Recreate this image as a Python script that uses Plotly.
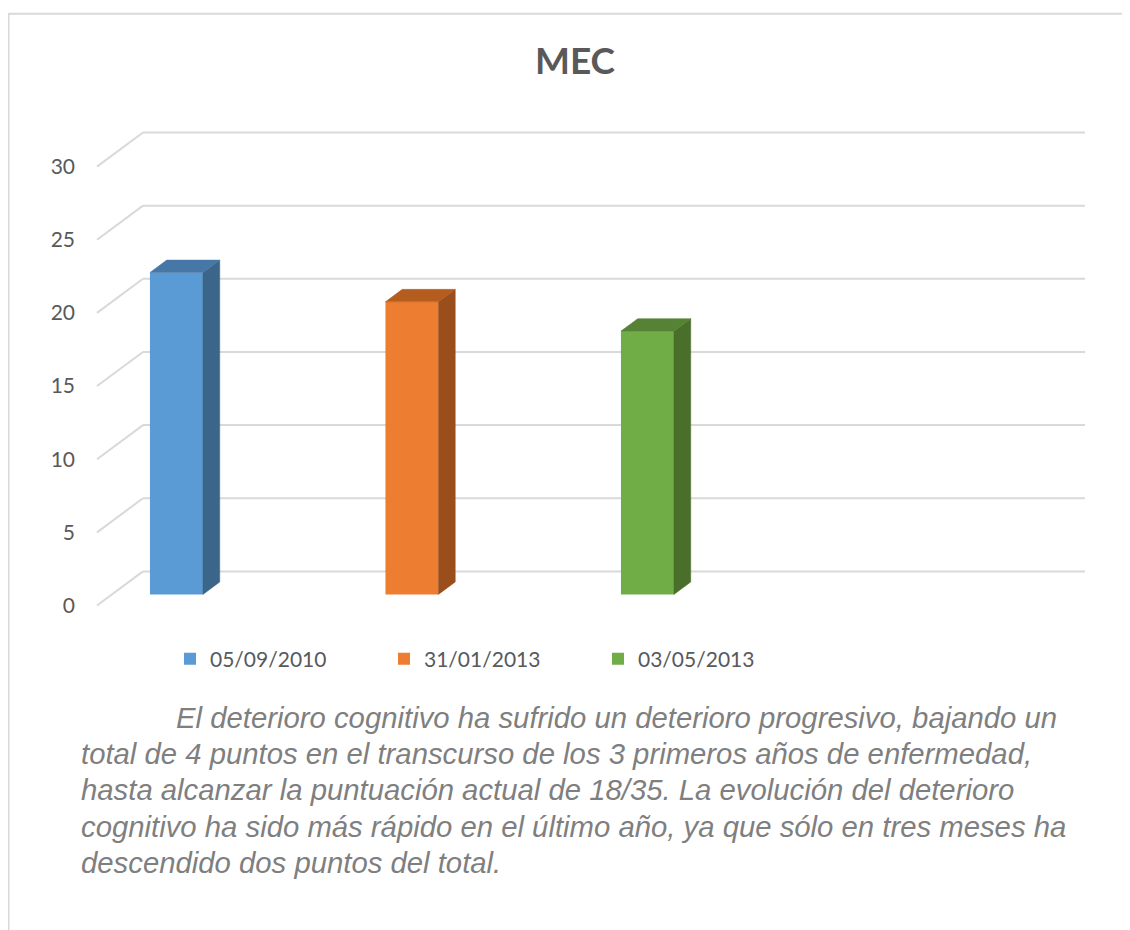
import plotly.graph_objects as go

# ---------------- data ----------------
series_names = ["05/09/2010", "31/01/2013", "03/05/2013"]
series_values = [22, 20, 18]
y_ticks = [0, 5, 10, 15, 20, 25, 30]
title_text = "MEC"
caption_lines = [
    "El deterioro cognitivo ha sufrido un deterioro progresivo, bajando un",
    "total de 4 puntos en el transcurso de los 3 primeros años de enfermedad,",
    "hasta alcanzar la puntuación actual de 18/35. La evolución del deterioro",
    "cognitivo ha sido más rápido en el último año, ya que sólo en tres meses ha",
    "descendido dos puntos del total.",
]

# ---------------- style ----------------
front_colors = ["#5B9BD5", "#ED7D31", "#70AD47"]
side_colors = ["#3B6589", "#9A4E1B", "#4A6F2B"]
top_colors = ["#4677A6", "#B55C1F", "#568236"]
grid_color = "#D9D9D9"
text_color = "#595959"
caption_color = "#7F7F7F"

OFF = 8                                        # page body margin of the html
W, H = 1130 - OFF, 930 - OFF                   # figure size
# geometry below is in page pixels
PL, PR, PT, PB = 90, 1095, 110, 625            # plot-area box
X_UNIT, X_ORIGIN_PX = 235.5, 161.5             # px per category slot, slot 0 (front plane)
Y_UNIT, Y_ORIGIN_PX = 14.63, 605.5             # px per value unit, value 0 (front plane)


def xu(px):
    return (px - X_ORIGIN_PX) / X_UNIT


def yu(py):
    return (Y_ORIGIN_PX - py) / Y_UNIT


def paper_x(px):
    return (px - PL) / (PR - PL)


def paper_y(py):
    return (PB - py) / (PB - PT)


# oblique depth vector (full depth of the floor) in data units
DX = 46 / X_UNIT
DY = 34.1 / Y_UNIT
XF = xu(97)          # front-left corner of floor
XB_END = xu(1085)    # right end of back wall
BW = 53 / X_UNIT     # bar width
F0 = 0.325           # depth fraction of bar front face
BD = 0.365           # bar depth fraction

fig = go.Figure()

# front faces (real bars)
for i, (name, v) in enumerate(zip(series_names, series_values)):
    fig.add_trace(go.Bar(
        x=[i + F0 * DX], y=[v], base=[F0 * DY], width=[BW],
        name=name, marker=dict(color=front_colors[i], line=dict(width=0)),
        hovertemplate=name + ": %{y}<extra></extra>",
    ))

# side and top faces
for i, v in enumerate(series_values):
    xc = i + F0 * DX
    xl, xr = xc - BW / 2, xc + BW / 2
    b = F0 * DY
    t = b + v
    ddx, ddy = BD * DX, BD * DY
    fig.add_trace(go.Scatter(
        x=[xr, xr + ddx, xr + ddx, xr, xr],
        y=[b, b + ddy, t + ddy, t, b],
        fill="toself", fillcolor=side_colors[i], mode="lines",
        line=dict(color=side_colors[i], width=0.5),
        showlegend=False, hoverinfo="skip",
    ))
    fig.add_trace(go.Scatter(
        x=[xl, xr, xr + ddx, xl + ddx, xl],
        y=[t, t, t + ddy, t + ddy, t],
        fill="toself", fillcolor=top_colors[i], mode="lines",
        line=dict(color=top_colors[i], width=0.5),
        showlegend=False, hoverinfo="skip",
    ))

shapes = []
# back-wall gridlines and side-wall diagonals
for v in y_ticks:
    shapes.append(dict(type="line", xref="x", yref="y", layer="below",
                       x0=XF, y0=v, x1=XF + DX, y1=v + DY,
                       line=dict(color=grid_color, width=2)))
    shapes.append(dict(type="line", xref="x", yref="y", layer="below",
                       x0=XF + DX, y0=v + DY, x1=XB_END, y1=v + DY,
                       line=dict(color=grid_color, width=2)))

# chart box border (top and left)
shapes.append(dict(type="line", xref="paper", yref="paper",
                   x0=paper_x(8.5), y0=paper_y(13.7), x1=paper_x(1140), y1=paper_y(13.7),
                   line=dict(color=grid_color, width=2)))
shapes.append(dict(type="line", xref="paper", yref="paper",
                   x0=paper_x(8.5), y0=paper_y(13), x1=paper_x(8.5), y1=paper_y(940),
                   line=dict(color=grid_color, width=2)))

annotations = []
cap_centers = [717, 753, 789, 826, 862]
for k, line in enumerate(caption_lines):
    annotations.append(dict(
        text=line, xref="paper", yref="paper",
        x=paper_x(174 if k == 0 else 79), y=paper_y(cap_centers[k]),
        xanchor="left", yanchor="middle", showarrow=False,
        font=dict(family="Liberation Sans", size=29.3, color=caption_color, style="italic"),
    ))

fig.update_layout(
    width=W, height=H,
    margin=dict(l=PL - OFF, r=1130 - PR, t=PT - OFF, b=930 - PB, pad=0),
    paper_bgcolor="white", plot_bgcolor="white",
    barmode="overlay",
    showlegend=True,
    title=dict(text="<b>" + title_text + "</b>", xref="container", yref="container",
               x=(575 - OFF) / W, xanchor="center", y=1 - (61 - OFF) / H, yanchor="middle",
               font=dict(family="Lato", size=37, color=text_color)),
    xaxis=dict(range=[xu(PL), xu(PR)], visible=False, fixedrange=True),
    yaxis=dict(range=[yu(PB), yu(PT)], tickvals=y_ticks, showgrid=False,
               zeroline=False, showline=False, ticks="",
               tickfont=dict(family="Lato", size=21, color=text_color),
               ticklabelstandoff=14, fixedrange=True),
    legend=dict(orientation="h", x=paper_x(170), xanchor="left",
                y=paper_y(659), yanchor="middle",
                font=dict(family="Lato", size=21, color=text_color),
                entrywidth=169, entrywidthmode="pixels", itemwidth=30,
                bgcolor="rgba(0,0,0,0)"),
    shapes=shapes,
    annotations=annotations,
)

fig.write_html("out.html")
